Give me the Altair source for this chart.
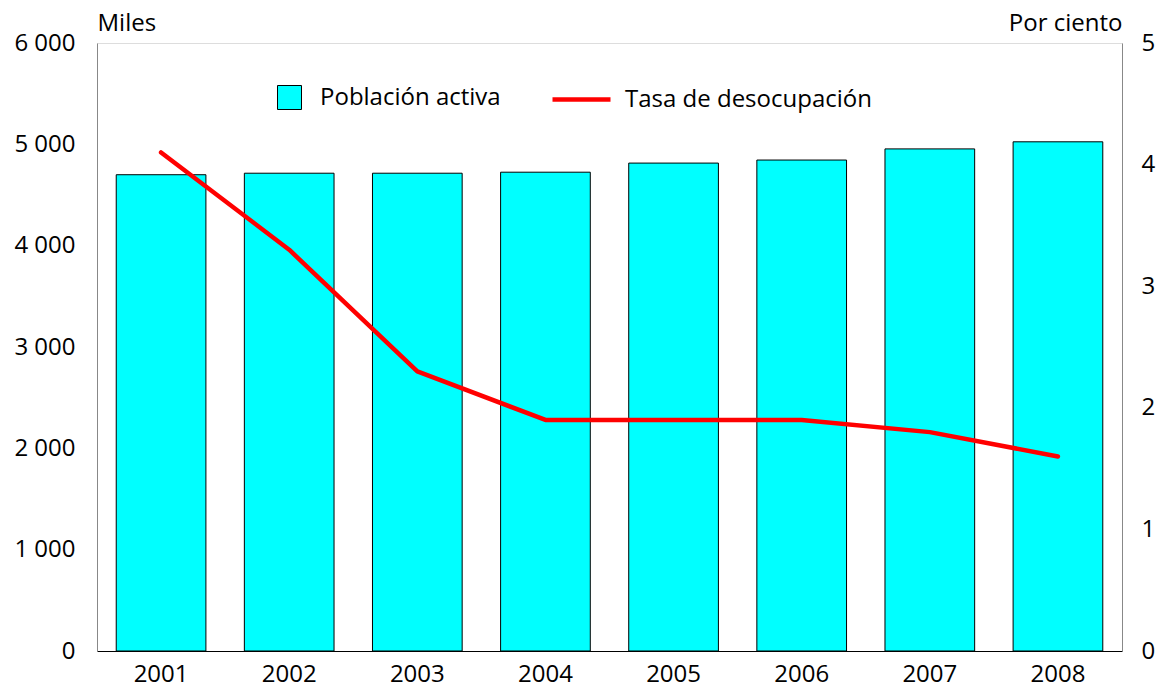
import altair as alt
import pandas as pd

years = ["2001", "2002", "2003", "2004", "2005", "2006", "2007", "2008"]
poblacion = [4700, 4715, 4715, 4725, 4815, 4845, 4955, 5025]
desocupacion = [4.1, 3.3, 2.3, 1.9, 1.9, 1.9, 1.8, 1.6]
bar_name = "Población activa"
line_name = "Tasa de desocupación"

df = pd.DataFrame({
    "year": years,
    "pob": poblacion,
    "tasa": desocupacion,
    "s1": [bar_name] * len(years),
    "s2": [line_name] * len(years),
})

FONT = "Open Sans"
FS = 24

x = alt.X("year:N", title=None,
          scale=alt.Scale(paddingInner=0.3, paddingOuter=0.15),
          axis=alt.Axis(labelAngle=0, ticks=False, labelPadding=11, domainColor="#000000",
                        labelFontSize=FS, labelFont=FONT, labelColor="#000000"))

bars = alt.Chart(df).mark_bar(stroke="#000000", strokeWidth=1).encode(
    x=x,
    y=alt.Y("pob:Q", scale=alt.Scale(domain=[0, 6000]),
            axis=alt.Axis(title="Miles", titleAngle=0, titleX=0, titleY=-13, titleAlign="left",
                          titleBaseline="alphabetic", titleFontSize=FS, titleFont=FONT,
                          titleFontWeight="normal", titleColor="#000000",
                          values=[0, 1000, 2000, 3000, 4000, 5000, 6000],
                          labelExpr="replace(format(datum.value, ','), ',', ' ')",
                          ticks=False, grid=False, labelPadding=22, domainColor="#888888",
                          labelFontSize=FS, labelFont=FONT, labelColor="#000000")),
    fill=alt.Fill("s1:N", scale=alt.Scale(domain=[bar_name], range=["#00FFFF"]),
                  legend=alt.Legend(title=None, orient="none", legendX=180, legendY=42,
                                    symbolType="square", symbolSize=576, symbolStrokeColor="#000000",
                                    symbolStrokeWidth=1, labelFontSize=FS, labelFont=FONT,
                                    labelColor="#000000", labelOffset=18, labelLimit=400)),
)

line = alt.Chart(df).mark_line(strokeWidth=4.5, strokeCap="round", strokeJoin="round").encode(
    x=x,
    y=alt.Y("tasa:Q", scale=alt.Scale(domain=[0, 5]),
            axis=alt.Axis(title="Por ciento", orient="right", titleAngle=0, titleX=0, titleY=-13,
                          titleAlign="right", titleBaseline="alphabetic", titleFontSize=FS,
                          titleFont=FONT, titleFontWeight="normal", titleColor="#000000",
                          values=[0, 1, 2, 3, 4, 5], ticks=False, grid=False, labelPadding=19,
                          domainColor="#888888",
                          labelFontSize=FS, labelFont=FONT, labelColor="#000000")),
    stroke=alt.Stroke("s2:N", scale=alt.Scale(domain=[line_name], range=["#FF0000"]),
                      legend=alt.Legend(title=None, orient="none", legendX=453, legendY=25,
                                        symbolType="stroke", symbolSize=3364, symbolStrokeWidth=4.5,
                                        labelFontSize=FS, labelFont=FONT, labelColor="#000000",
                                        labelOffset=12, labelLimit=400)),
)

chart = alt.layer(bars, line).resolve_scale(y="independent", fill="independent",
                                             stroke="independent").properties(
    width=1025, height=608,
    autosize=alt.AutoSizeParams(type="none"),
    padding={"left": 89, "top": 35, "right": 34, "bottom": 37}
).configure_view(stroke="#000000", strokeWidth=1).configure(font=FONT)

chart.save("out.html", embed_options={"renderer": "svg", "actions": False})
